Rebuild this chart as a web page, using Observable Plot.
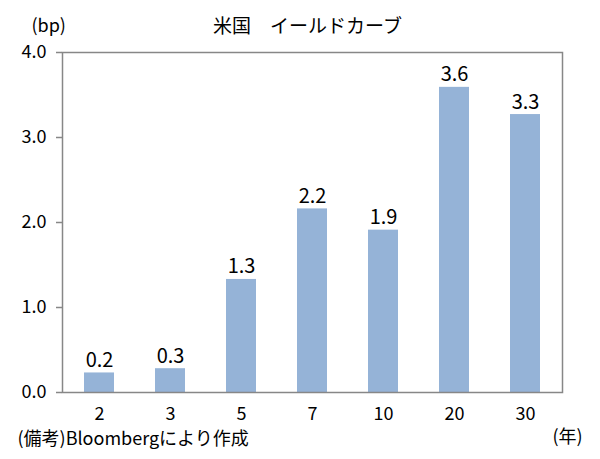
<!DOCTYPE html>
<html>
<head>
<meta charset="utf-8">
<script src="https://cdn.jsdelivr.net/npm/d3@7"></script>
<script src="https://cdn.jsdelivr.net/npm/@observablehq/plot@0.6"></script>
<style>
  html, body { margin: 0; padding: 0; background: #fff; }
  #chart svg { display: block; }
</style>
</head>
<body>
<div id="chart"></div>
<script>
const maturities = ["2", "3", "5", "7", "10", "20", "30"];
const values = [0.23, 0.28, 1.33, 2.16, 1.91, 3.59, 3.27];
const valueLabels = ["0.2", "0.3", "1.3", "2.2", "1.9", "3.6", "3.3"];
const yTicks = [0, 1, 2, 3, 4];
const title = "米国　イールドカーブ";
const unitY = "(bp)";
const unitX = "(年)";
const note = "(備考)Bloombergにより作成";

const data = maturities.map((m, i) => ({ m, v: values[i], label: valueLabels[i] }));
const FONT = "'Noto Sans CJK JP', 'Noto Sans', sans-serif";

const chart = Plot.plot({
  width: 600,
  height: 459,
  marginLeft: 62,
  marginRight: 38,
  marginTop: 52,
  marginBottom: 67,
  style: { fontFamily: FONT, fontSize: "18px", color: "#000", background: "#fff" },
  x: { domain: maturities, paddingInner: 0.58, paddingOuter: 0.29, label: null },
  y: { domain: [0, 4], label: null },
  marks: [
    Plot.barY(data, { x: "m", y: "v", fill: "#95B3D7" }),
    Plot.frame({ stroke: "#878787", strokeWidth: 1.5 }),
    Plot.axisY(yTicks, { tickSize: 6, tickPadding: 10, tickFormat: d3.format(".1f"), stroke: "#878787", strokeWidth: 1.5, fill: "#000", fontSize: 18, label: null, letterSpacing: "1px" }),
    Plot.axisX({ tickSize: 0, tickPadding: 15, fill: "#000", fontSize: 18, label: null }),
    Plot.text(data, { x: "m", y: "v", text: "label", dy: -6, lineAnchor: "bottom", fontSize: 20, fill: "#000", letterSpacing: "1.5px" }),
    Plot.text([title], { frameAnchor: "top", dx: -5, dy: -26, lineAnchor: "middle", fontSize: 19, fill: "#000" }),
    Plot.text([unitY], { frameAnchor: "top-left", textAnchor: "start", dx: -31, dy: -26, lineAnchor: "middle", fontSize: 18, fill: "#000" }),
    Plot.text([note], { frameAnchor: "bottom-left", textAnchor: "start", dx: -45, dy: 47, lineAnchor: "middle", fontSize: 18, fill: "#000" }),
    Plot.text([unitX], { frameAnchor: "bottom-right", textAnchor: "start", dx: -10, dy: 45, lineAnchor: "middle", fontSize: 18, fill: "#000" })
  ]
});
document.getElementById("chart").appendChild(chart);
</script>
</body>
</html>
